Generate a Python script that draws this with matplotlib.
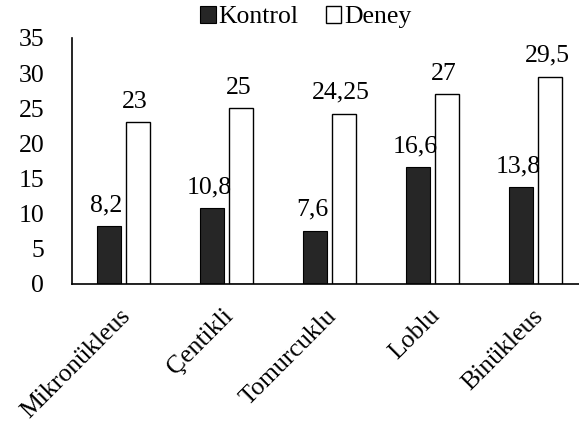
import matplotlib.pyplot as plt
import matplotlib.transforms as mtrans
import numpy as np

SERIF = 'Liberation Serif'
plt.rcParams['font.family'] = SERIF

# data
categories = ['Mikronükleus', 'Çentikli', 'Tomurcuklu', 'Loblu', 'Binükleus']
kontrol = [8.2, 10.8, 7.6, 16.6, 13.8]
deney = [23, 25, 24.25, 27, 29.5]
yticks = [0, 5, 10, 15, 20, 25, 30, 35]

def fmt(v):
    return f"{v:g}".replace('.', ',')

fig = plt.figure(figsize=(5.79, 4.23), dpi=100)
ax = fig.add_axes([72 / 579, 1 - 284 / 423, 515 / 579, 246 / 423])

x = np.arange(len(categories))
w = 0.233
off = 0.141
b1 = ax.bar(x - off, kontrol, w, color='#262626', edgecolor='black', linewidth=0.8, label='Kontrol')
b2 = ax.bar(x + off, deney, w, color='white', edgecolor='black', linewidth=1.0, label='Deney')

for bars, vals in ((b1, kontrol), (b2, deney)):
    for b, v in zip(bars, vals):
        ax.annotate(fmt(v), (b.get_x() + b.get_width() / 2, v), xytext=(-2, 7),
                    textcoords='offset points', ha='center', va='bottom',
                    fontsize=18.5, family=SERIF)

ax.set_xlim(-0.5, len(categories) - 0.5)
ax.set_ylim(0, 35)
ax.set_yticks(yticks)
ax.set_yticklabels([str(t) for t in yticks], fontsize=18.5, family=SERIF)
ax.tick_params(axis='both', length=0)
ax.tick_params(axis='y', pad=20)
ax.set_xticks(x)
ax.set_xticklabels(categories, rotation=45, ha='right', rotation_mode='anchor',
                   fontsize=18.5, family=SERIF)
ax.tick_params(axis='x', pad=15)
shift = mtrans.ScaledTranslation(-4 / 100, 0, fig.dpi_scale_trans)
for lab in ax.get_xticklabels():
    lab.set_transform(lab.get_transform() + shift)
for s in ['top', 'right']:
    ax.spines[s].set_visible(False)
ax.spines['left'].set_linewidth(1.2)
ax.spines['bottom'].set_linewidth(1.2)

fig.legend(handles=[b1, b2], labels=['Kontrol', 'Deney'], loc='upper center',
           bbox_to_anchor=(0.528, 1.04), ncol=2, frameon=False,
           prop={'family': SERIF, 'size': 18.5},
           handlelength=0.6, handleheight=0.6, handletextpad=0.12, columnspacing=1.05)

fig.savefig('out.png', dpi=100)
